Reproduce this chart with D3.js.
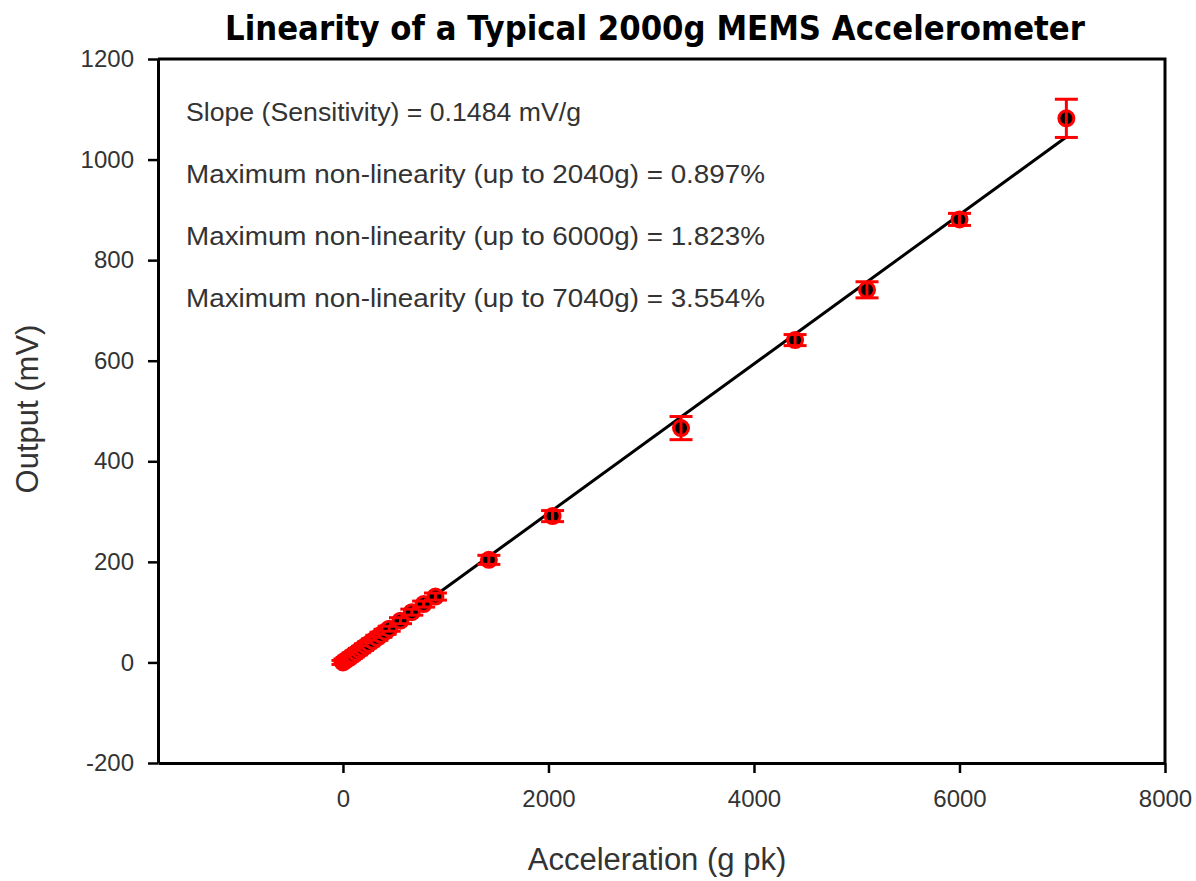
<!DOCTYPE html>
<html>
<head>
<meta charset="utf-8">
<script src="https://cdn.jsdelivr.net/npm/d3@7"></script>
<style>
  body { margin: 0; background: #fff; }
  svg text { font-family: "Liberation Sans", Arial, sans-serif; }
</style>
</head>
<body>
<div id="chart"></div>
<script>
// Data
const acceleration = [0, 20, 40, 60, 80, 100, 130, 160, 190, 220, 250, 290, 330, 370, 410, 450, 560, 670, 785, 900, 1420, 2040, 3290, 4400, 5100, 6000, 7040];
const output       = [0, 3, 6, 9, 12, 15, 19, 24, 28, 33, 37, 43, 49, 55, 61, 67, 83, 100, 116, 131, 204, 291, 466, 641, 741, 881, 1082];
const errorBar     = [4, 4, 4, 4, 4, 4, 4, 4, 4, 4, 4, 4, 5, 5, 5, 5, 6, 6, 6, 7, 9, 11, 23, 11, 16, 12, 38];

const fitSlope = 0.1484;
const fitRange = [0, 7040];

const xTicks = [0, 2000, 4000, 6000, 8000];
const yTicks = [-200, 0, 200, 400, 600, 800, 1000, 1200];

const notes = [
    "Slope (Sensitivity) = 0.1484 mV/g",
    "Maximum non-linearity (up to 2040g) = 0.897%",
    "Maximum non-linearity (up to 6000g) = 1.823%",
    "Maximum non-linearity (up to 7040g) = 3.554%"
];
const noteWidths = [395, 579, 579, 579];

const title = "Linearity of a Typical 2000g MEMS Accelerometer";
const xLabel = "Acceleration (g pk)";
const yLabel = "Output (mV)";

// Layout
const width = 1196, height = 881;
const margin = { top: 59, right: 31, bottom: 118, left: 158 };

const svg = d3.select("#chart").append("svg")
    .attr("width", width)
    .attr("height", height);

const x = d3.scaleLinear()
    .domain([-1800, 8000])
    .range([margin.left, width - margin.right]);

const y = d3.scaleLinear()
    .domain([-200, 1200])
    .range([height - margin.bottom, margin.top]);

const rows = acceleration.map((a, i) => ({ a: a, v: output[i], e: errorBar[i] }));

// Title
svg.append("text")
    .attr("x", 655)
    .attr("y", 40)
    .attr("text-anchor", "middle")
    .attr("textLength", 860)
    .attr("lengthAdjust", "spacingAndGlyphs")
    .style("font-family", "'DejaVu Sans', Verdana, sans-serif")
    .style("font-weight", "bold")
    .style("font-size", "33px")
    .attr("fill", "#000")
    .text(title);

// Frame (top and right)
svg.append("path")
    .attr("fill", "none")
    .attr("stroke", "#000")
    .attr("stroke-width", 3)
    .attr("d", `M${x.range()[0]},${y.range()[1]}H${x.range()[1]}V${y.range()[0]}`);

// Axes
const xAxis = d3.axisBottom(x).tickValues(xTicks).tickFormat(d3.format("d")).tickSize(10).tickPadding(14).tickSizeOuter(0);
const yAxis = d3.axisLeft(y).tickValues(yTicks).tickFormat(d => String(d)).tickSize(10).tickPadding(14).tickSizeOuter(0);

const gx = svg.append("g")
    .attr("transform", `translate(0,${height - margin.bottom})`)
    .call(xAxis);

const gy = svg.append("g")
    .attr("transform", `translate(${margin.left},0)`)
    .call(yAxis);

[gx, gy].forEach(g => {
    g.select(".domain").attr("stroke", "#000").attr("stroke-width", 3);
    g.selectAll(".tick line").attr("stroke", "#000").attr("stroke-width", 2.5);
    g.selectAll(".tick text")
        .attr("fill", "#333")
        .style("font-size", "24px")
        .style("font-family", "'Liberation Sans', Arial, sans-serif");
});
gx.selectAll(".tick text").attr("dy", "0.85em");

// Axis labels
svg.append("text")
    .attr("x", 657)
    .attr("y", 870)
    .attr("text-anchor", "middle")
    .attr("fill", "#333")
    .style("font-size", "31px")
    .text(xLabel);

svg.append("text")
    .attr("transform", `translate(38,409) rotate(-90)`)
    .attr("text-anchor", "middle")
    .attr("fill", "#333")
    .style("font-size", "31px")
    .text(yLabel);

// Annotations
svg.selectAll("text.note")
    .data(notes)
    .enter()
    .append("text")
    .attr("class", "note")
    .attr("x", 186)
    .attr("y", (d, i) => 121 + i * 62)
    .attr("textLength", (d, i) => noteWidths[i])
    .attr("lengthAdjust", "spacingAndGlyphs")
    .attr("fill", "#333")
    .style("font-size", "25px")
    .text(d => d);

// Fit line
const line = d3.line()
    .x(d => x(d))
    .y(d => y(fitSlope * d));

svg.append("path")
    .attr("fill", "none")
    .attr("stroke", "#000")
    .attr("stroke-width", 3)
    .attr("d", line(fitRange));

// Markers with error bars
const marks = svg.append("g").selectAll("g")
    .data(rows)
    .enter()
    .append("g");

marks.append("circle")
    .attr("cx", d => x(d.a))
    .attr("cy", d => y(d.v))
    .attr("r", 7.5)
    .attr("fill", "#000")
    .attr("stroke", "#ff0000")
    .attr("stroke-width", 3);

marks.append("line")
    .attr("x1", d => x(d.a))
    .attr("x2", d => x(d.a))
    .attr("y1", d => y(d.v + d.e))
    .attr("y2", d => y(d.v - d.e))
    .attr("stroke", "#ff0000")
    .attr("stroke-width", 3);

marks.selectAll("line.cap")
    .data(d => [{ a: d.a, v: d.v + d.e }, { a: d.a, v: d.v - d.e }])
    .enter()
    .append("line")
    .attr("class", "cap")
    .attr("x1", d => x(d.a) - 11.5)
    .attr("x2", d => x(d.a) + 11.5)
    .attr("y1", d => y(d.v))
    .attr("y2", d => y(d.v))
    .attr("stroke", "#ff0000")
    .attr("stroke-width", 3);
</script>
</body>
</html>
